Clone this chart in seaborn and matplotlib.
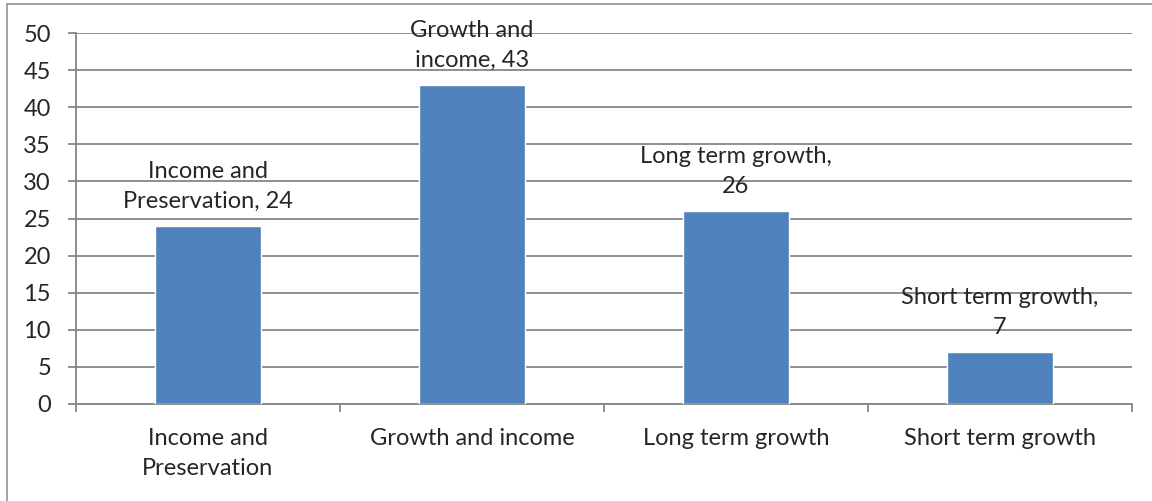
import matplotlib
matplotlib.use("Agg")
import matplotlib.pyplot as plt
import seaborn as sns
import pandas as pd
from matplotlib.patches import Rectangle

categories = ["Income and\nPreservation", "Growth and income", "Long term growth", "Short term growth"]
label_names = ["Income and\nPreservation", "Growth and\nincome", "Long term growth,\n", "Short term growth,\n"]
values = [24, 43, 26, 7]
yticks = [0, 5, 10, 15, 20, 25, 30, 35, 40, 45, 50]

sns.set_style("white")
plt.rcParams["font.family"] = ["Lato", "DejaVu Sans"]

df = pd.DataFrame({"category": categories, "value": values})

fig = plt.figure(figsize=(11.52, 5.01), dpi=100)
ax = fig.add_axes([76 / 1152, 1 - 404 / 501, (1132 - 76) / 1152, (404 - 33) / 501])

grid_col = "#868686"
fs = 17
sns.barplot(data=df, x="category", y="value", color="#4F81BD", width=0.4,
            saturation=1, ax=ax, zorder=3)

ax.set_ylim(0, 50)
ax.set_xlim(-0.5, 3.5)
ax.set_yticks(yticks)
ax.set_xlabel("")
ax.set_ylabel("")
ax.yaxis.grid(True, color=grid_col, linewidth=1.3, zorder=0)
ax.set_axisbelow(True)

for side in ["top", "right"]:
    ax.spines[side].set_visible(False)
for side in ["left", "bottom"]:
    ax.spines[side].set_color(grid_col)
    ax.spines[side].set_linewidth(1.3)

ax.tick_params(axis="y", which="major", direction="out", length=6, width=1.3,
               color=grid_col, labelsize=fs, pad=12, left=True)
ax.tick_params(axis="x", which="major", length=0, labelsize=fs, pad=17)
for lbl in ax.get_xticklabels():
    lbl.set_linespacing(1.55)
ax.set_xticks([-0.5, 0.5, 1.5, 2.5, 3.5], minor=True)
ax.tick_params(axis="x", which="minor", direction="out", length=6, width=1.3,
               color=grid_col, bottom=True)

for i, (name, v) in enumerate(zip(label_names, values)):
    if name.endswith("\n"):
        txt = name + str(v)
    else:
        txt = name + ", " + str(v)
    ax.annotate(txt, (i, v), xytext=(0, 10), textcoords="offset points",
                ha="center", va="bottom", fontsize=fs, linespacing=1.55,
                annotation_clip=False, zorder=5)

fig.patches.append(Rectangle((7 / 1152, -0.1), 1.2, 1 - 4 / 501 + 0.1,
                             transform=fig.transFigure, fill=False,
                             edgecolor="#9a9a9a", linewidth=1.3))

fig.savefig("out.png", dpi=100)
